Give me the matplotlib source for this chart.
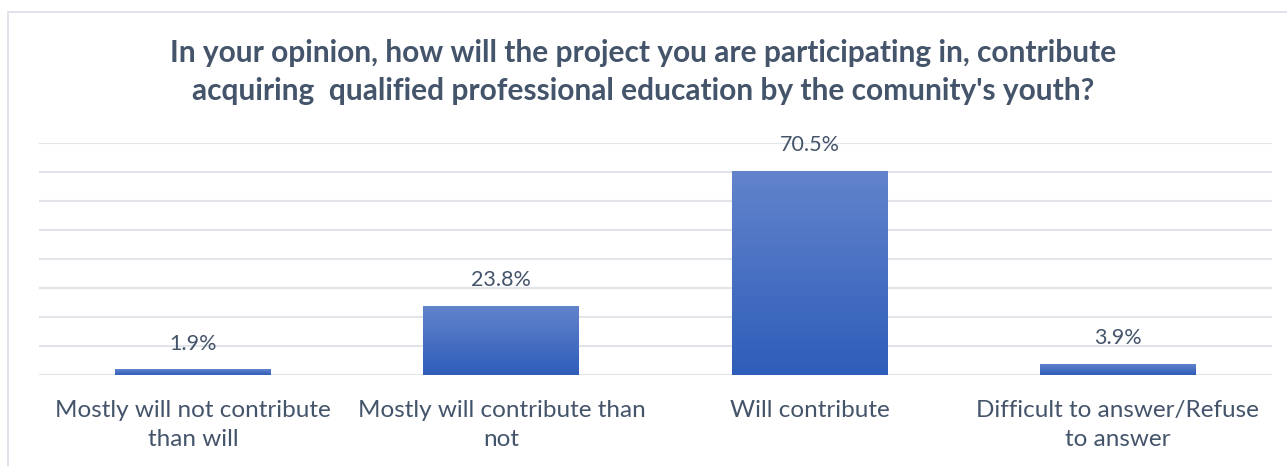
import numpy as np
import matplotlib.pyplot as plt
from matplotlib.patches import Rectangle

categories = [
    "Mostly will not contribute\nthan will",
    "Mostly will contribute than\nnot",
    "Will contribute",
    "Difficult to answer/Refuse\nto answer",
]
values = [1.9, 23.8, 70.5, 3.9]
title = ("In your opinion, how will the project you are participating in, contribute\n"
         "acquiring  qualified professional education by the comunity's youth?")

text_color = "#44546A"
grid_color = "#E1E4E8"

plt.rcParams["font.family"] = ["Lato", "DejaVu Sans"]

fig = plt.figure(figsize=(12.87, 4.66), dpi=100)
ax = fig.add_axes([39 / 1287, 1 - 375 / 466, (1272 - 39) / 1287, (375 - 143) / 466])

x = np.arange(len(values))
bars = ax.bar(x, values, width=0.506, facecolor="none", edgecolor="none", zorder=3)

# vertical gradient fill, lighter at the top
grad = np.linspace(0, 1, 256).reshape(-1, 1)
cmap = plt.matplotlib.colors.LinearSegmentedColormap.from_list("barfill", ["#2E5DB9", "#6384CC"])
for b in bars:
    x0, y0 = b.get_x(), b.get_y()
    im = ax.imshow(grad, cmap=cmap, origin="lower", aspect="auto",
                   extent=(x0, x0 + b.get_width(), y0, y0 + b.get_height()), zorder=3)
    im.set_clip_path(b)

for xi, v in zip(x, values):
    ax.annotate(f"{v}%", (xi, v), xytext=(0, 18.5), textcoords="offset points",
                ha="center", va="center", fontsize=15.5, color=text_color)

ax.set_xlim(-0.5, len(values) - 0.5)
ax.set_ylim(0, 80)
ax.set_yticks(np.arange(0, 81, 10))
ax.yaxis.grid(True, color=grid_color, linewidth=1.5)
ax.set_axisbelow(True)
ax.tick_params(axis="y", left=False, labelleft=False)
ax.tick_params(axis="x", length=0, pad=18)
ax.set_xticks(x)
ax.set_xticklabels(categories, fontsize=17.5, color=text_color, linespacing=1.5)
for s in ax.spines.values():
    s.set_visible(False)

fig.text(0.5, 1 - 72 / 466, title, ha="center", va="center", fontsize=21.5,
         fontweight="bold", color=text_color, linespacing=1.45)

# outer chart frame
fig.patches.append(Rectangle((8 / 1287, -0.1), 1.2, 1 - 12 / 466 + 0.1,
                             transform=fig.transFigure, fill=False,
                             edgecolor="#D9DEE5", linewidth=1.2))

fig.savefig("out.png", dpi=100)
